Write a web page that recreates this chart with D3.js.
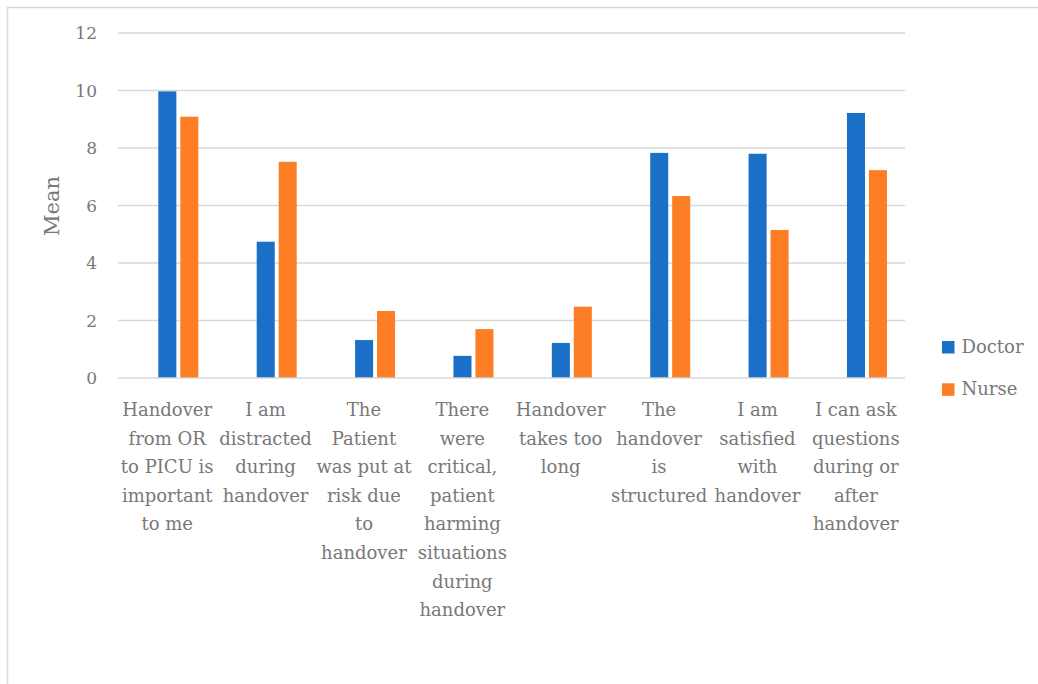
<!DOCTYPE html>
<html>
<head>
<meta charset="utf-8">
<script src="https://cdn.jsdelivr.net/npm/d3@7"></script>
<style>
  body { margin: 0; background: #fff; }
  text { font-family: "DejaVu Serif", serif; fill: #787878; }
</style>
</head>
<body>
<div id="chart"></div>
<script>
// data
var categories = [
  ['Handover', 'from OR', 'to PICU is', 'important', 'to me'],
  ['I am', 'distracted', 'during', 'handover'],
  ['The', 'Patient', 'was put at', 'risk due', 'to', 'handover'],
  ['There', 'were', 'critical,', 'patient', 'harming', 'situations', 'during', 'handover'],
  ['Handover', 'takes too', 'long'],
  ['The', 'handover', 'is', 'structured'],
  ['I am', 'satisfied', 'with', 'handover'],
  ['I can ask', 'questions', 'during or', 'after', 'handover']
]
var seriesNames = ['Doctor', 'Nurse']
var doctor = [9.97, 4.74, 1.32, 0.77, 1.22, 7.83, 7.80, 9.22]
var nurse = [9.09, 7.52, 2.33, 1.70, 2.48, 6.33, 5.15, 7.23]
var yTicks = [0, 2, 4, 6, 8, 10, 12]
var colors = ['#1a70c7', '#fd7e24']

var W = 1038, H = 684
var margin = { top: 33, left: 118, right: 133, bottom: 306 }
var w = W - margin.left - margin.right
var h = H - margin.top - margin.bottom

var svg = d3.select('#chart').append('svg')
    .attr('width', W)
    .attr('height', H)

// outer frame (right and bottom edges fall outside the picture)
svg.append('rect')
    .attr('x', 7.5).attr('y', 7.5)
    .attr('width', W + 10).attr('height', H + 10)
    .attr('fill', 'none')
    .attr('stroke', '#d9d9d9')
    .attr('stroke-width', 1.5)

var g = svg.append('g')
    .attr('transform', 'translate(' + margin.left + ',' + margin.top + ')')

var idx = d3.range(categories.length)
var x0 = d3.scaleBand().domain(idx).range([0, w])
// Excel leaves room for a third (empty) slot, so the pair sits right of centre
var x1 = d3.scaleBand().domain(seriesNames)
    .range([x0.bandwidth() * 0.41, x0.bandwidth() * 0.41 + 40])
    .paddingInner(0.18)
var y = d3.scaleLinear().domain([0, 12]).range([h, 0])

// gridlines
g.selectAll('.grid')
    .data(yTicks.filter(function (d) { return d > 0 }))
    .enter().append('line')
    .attr('x1', 0).attr('x2', w)
    .attr('y1', function (d) { return y(d) })
    .attr('y2', function (d) { return y(d) })
    .attr('stroke', '#d9d9d9')
    .attr('stroke-width', 1.5)

// y tick labels
g.selectAll('.ytick')
    .data(yTicks)
    .enter().append('text')
    .attr('x', -21)
    .attr('y', function (d) { return y(d) })
    .attr('dy', '0.36em')
    .attr('text-anchor', 'end')
    .style('font-size', '17px')
    .text(function (d) { return d })

// bars
var rows = idx.map(function (i) {
  return [{ s: 'Doctor', v: doctor[i] }, { s: 'Nurse', v: nurse[i] }]
})
var groups = g.selectAll('.cat')
    .data(rows)
    .enter().append('g')
    .attr('transform', function (d, i) { return 'translate(' + x0(i) + ',0)' })
groups.selectAll('rect')
    .data(function (d) { return d })
    .enter().append('rect')
    .attr('x', function (d) { return x1(d.s) })
    .attr('width', x1.bandwidth())
    .attr('y', function (d) { return y(d.v) })
    .attr('height', function (d) { return h - y(d.v) })
    .attr('fill', function (d, i) { return colors[i] })

// baseline
g.append('line')
    .attr('x1', 0).attr('x2', w)
    .attr('y1', h).attr('y2', h)
    .attr('stroke', '#d9d9d9')
    .attr('stroke-width', 1.5)

// category labels
var labels = g.selectAll('.xlab')
    .data(categories)
    .enter().append('text')
    .attr('text-anchor', 'middle')
    .style('font-size', '18px')
    .attr('transform', function (d, i) {
      return 'translate(' + (x0(i) + x0.bandwidth() / 2) + ',' + (h + 38) + ')'
    })
labels.selectAll('tspan')
    .data(function (d) { return d })
    .enter().append('tspan')
    .attr('x', 0)
    .attr('y', function (d, i) { return i * 28.6 })
    .text(function (d) { return d })

// y axis title
svg.append('text')
    .attr('transform', 'translate(59,206) rotate(-90)')
    .attr('text-anchor', 'middle')
    .style('font-size', '21px')
    .text('Mean')

// legend
var legend = svg.selectAll('.legend')
    .data(seriesNames)
    .enter().append('g')
    .attr('transform', function (d, i) { return 'translate(942,' + (341 + i * 42.3) + ')' })
legend.append('rect')
    .attr('width', 12.5).attr('height', 12.5)
    .attr('fill', function (d, i) { return colors[i] })
legend.append('text')
    .attr('x', 19.5).attr('y', 12)
    .style('font-size', '18px')
    .text(function (d) { return d })
</script>
</body>
</html>
